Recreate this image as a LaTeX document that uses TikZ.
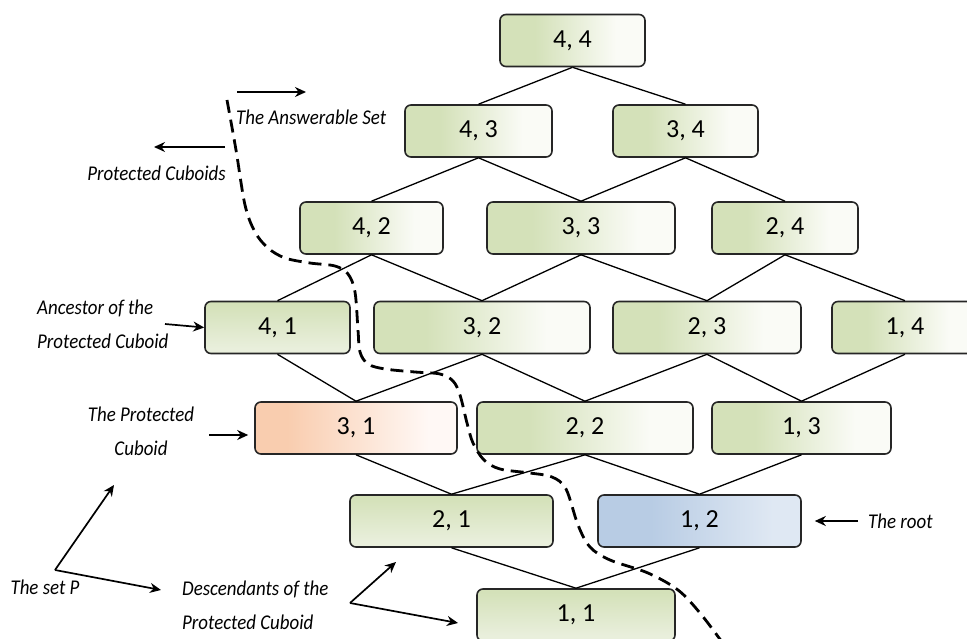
\documentclass[tikz,border=0pt]{standalone}
\usepackage{fontspec}
\setmainfont{Carlito}
\newfontfamily\notefont{Carlito}[FakeStretch=0.9]
\usetikzlibrary{arrows.meta}

% fill colours of the cells
\definecolor{gL}{RGB}{212,225,185}
\definecolor{gR}{RGB}{250,251,246}
\definecolor{gB}{RGB}{233,239,220}
\definecolor{oL}{RGB}{249,205,175}
\definecolor{oR}{RGB}{255,248,245}
\definecolor{bL}{RGB}{184,204,228}
\definecolor{bR}{RGB}{223,232,243}

\pgfdeclarehorizontalshading{greenh}{100bp}{color(0bp)=(gL); color(37bp)=(gL); color(65bp)=(gR); color(100bp)=(gR)}
\pgfdeclareverticalshading{greenv}{100bp}{color(0bp)=(gB); color(30bp)=(gB); color(72bp)=(gL); color(100bp)=(gL)}
\pgfdeclarehorizontalshading{orangeh}{100bp}{color(0bp)=(oL); color(33bp)=(oL); color(68bp)=(oR); color(100bp)=(oR)}
\pgfdeclarehorizontalshading{blueh}{100bp}{color(0bp)=(bL); color(38bp)=(bL); color(68bp)=(bR); color(100bp)=(bR)}

\tikzset{
  cell/.style={draw=black!85, line width=1.6pt, rounded corners=6pt,
    minimum height=52pt, inner sep=0pt, text=black,
    font=\fontsize{26}{26}\selectfont},
  gh/.style={cell, shading=greenh},
  gv/.style={cell, shading=greenv},
  oh/.style={cell, shading=orangeh},
  bh/.style={cell, shading=blueh},
  edge/.style={line width=1.3pt, black},
  pointer/.style={line width=1.7pt, black, -{Stealth[length=11pt,width=10pt]}},
  note/.style={inner sep=0pt, font=\notefont\fontsize{21}{34}\selectfont\itshape},
  border/.style={line width=2.8pt, black, dash pattern=on 13pt off 7pt, line cap=butt},
}

\begin{document}
\begin{tikzpicture}[x=1pt, y=-1pt]
\useasboundingbox (0,0) rectangle (967,639);
\clip (0,0) rectangle (967,639);

% lattice cells
\node[gh, minimum width=145pt] (c44) at (572.5,40.5) {4, 4};
\node[gh, minimum width=147pt] (c43) at (478.5,131) {4, 3};
\node[gh, minimum width=145pt] (c34) at (685.5,131) {3, 4};
\node[gh, minimum width=143pt] (c42) at (371.5,228) {4, 2};
\node[gh, minimum width=188pt] (c33) at (581,228) {3, 3};
\node[gh, minimum width=146pt] (c24) at (785,228) {2, 4};
\node[gv, minimum width=145pt] (c41) at (277.5,327.5) {4, 1};
\node[gh, minimum width=216pt] (c32) at (482,327.5) {3, 2};
\node[gh, minimum width=188pt] (c23) at (707,327.5) {2, 3};
\node[gh, minimum width=146pt] (c14) at (905,327.5) {1, 4};
\node[oh, minimum width=202pt] (c31) at (356,428) {3, 1};
\node[gh, minimum width=216pt] (c22) at (585,428) {2, 2};
\node[gh, minimum width=179pt] (c13) at (801.5,428) {1, 3};
\node[gv, minimum width=203pt] (c21) at (451.5,521) {2, 1};
\node[bh, minimum width=203pt] (c12) at (699.5,521) {1, 2};
\node[gv, minimum width=198pt] (c11) at (576,615) {1, 1};

% lattice edges
\foreach \a/\b in {c44/c43, c44/c34, c43/c42, c43/c33, c34/c33, c34/c24,
                   c42/c41, c42/c32, c33/c32, c33/c23, c24/c23, c24/c14,
                   c41/c31, c32/c31, c32/c22, c23/c22, c23/c13, c14/c13,
                   c31/c21, c22/c21, c22/c12, c13/c12, c21/c11, c12/c11}
  \draw[edge] (\a.south) -- (\b.north);

% boundary between the answerable set and the protected cuboids
\draw[border] plot[smooth, tension=0.55] coordinates {
  (227,100) (236,150) (245,205) (255,232) (268,248) (285,258) (310,263)
  (335,266) (348,274) (355,292) (358,330) (360,352) (368,364) (385,369)
  (415,372) (440,374) (453,381) (460,395) (467,423) (473,443) (484,460)
  (500,469) (530,473) (552,477) (566,489) (578,525) (590,547) (610,560)
  (648,573) (678,590) (700,613) (722,642)};

% annotations
\coordinate (ansA) at (237,92);
\coordinate (ansB) at (306,92);
\draw[pointer] (ansA) -- (ansB);
\node[note, anchor=west] (ans) at (236,117) {The Answerable Set};

\coordinate (proA) at (225,147);
\coordinate (proB) at (154,147);
\draw[pointer] (proA) -- (proB);
\node[note, anchor=east] (pro) at (226,173) {Protected Cuboids};

\node[note, anchor=west, align=left] (anc) at (37,324) {Ancestor of the\\Protected Cuboid};
\coordinate (ancA) at (165,324);
\draw[pointer] (ancA) -- (c41.west);

\node[note, align=center] (pc) at (141,431) {The Protected\\Cuboid};
\coordinate (pcA) at (209,435);
\draw[pointer, shorten >=6pt] (pcA) -- (c31.west |- pcA);

\coordinate (rootA) at (858,521);
\draw[pointer, shorten >=13pt] (rootA) -- (c12.east);
\node[note, anchor=west] (root) at (868,521) {The root};

\node[note] (setp) at (45,587) {The set P};
\coordinate (pO) at (55,570);
\coordinate (pU) at (114,485);
\coordinate (pR) at (161,590);
\draw[pointer] (pO) -- (pU);
\draw[pointer] (pO) -- (pR);

\node[note, anchor=west, align=left] (desc) at (182,605) {Descendants of the\\Protected Cuboid};
\coordinate (dO) at (350,603);
\coordinate (dU) at (396,562);
\coordinate (dR) at (458,623);
\draw[pointer] (dO) -- (dU);
\draw[pointer] (dO) -- (dR);
\end{tikzpicture}
\end{document}
